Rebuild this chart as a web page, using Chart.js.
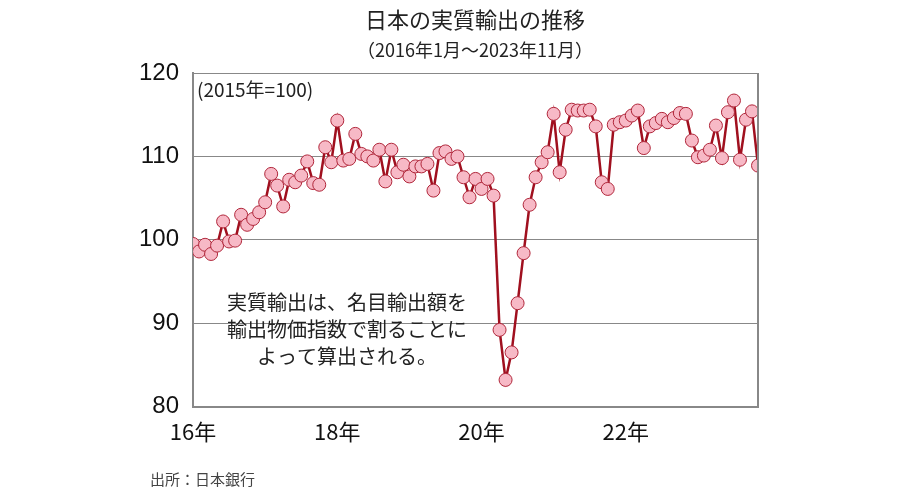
<!DOCTYPE html><html><head><meta charset="utf-8">
<script src="https://cdn.jsdelivr.net/npm/chart.js@4"></script>
<style>body{margin:0;background:#fff}#w{width:900px;height:500px}</style></head><body><div id="w"><canvas id="c"></canvas></div>
<script>
const startYear = 2016;
const values = [
99.5,98.6,99.4,98.3,99.3,102.2,99.8,99.9,103.0,101.8,102.5,103.3,
104.5,107.9,106.5,104.0,107.2,106.9,107.7,109.4,106.8,106.6,111.1,109.3,
114.3,109.5,109.7,112.7,110.3,110.0,109.5,110.8,107.0,110.8,108.1,109.0,
107.6,108.8,108.8,109.1,105.9,110.4,110.6,109.7,110.0,107.5,105.1,107.3,
106.1,107.3,105.3,89.2,83.2,86.5,92.4,98.4,104.2,107.5,109.3,110.5,
115.1,108.1,113.2,115.6,115.5,115.5,115.6,113.6,106.9,106.1,113.8,114.1,
114.3,114.9,115.5,111.0,113.6,114.0,114.5,114.1,114.6,115.2,115.1,111.9,
109.9,110.1,110.8,113.7,109.8,115.3,116.7,109.6,114.4,115.4,108.9];
const xTickLabels = {0:'16年',24:'18年',48:'20年',72:'22年'};
const yTicks = [80,90,100,110,120];
const title = '日本の実質輸出の推移';
const subtitle = '（2016年1月～2023年11月）';
const baseNote = '(2015年=100)';
const noteLines = ['実質輸出は、名目輸出額を','輸出物価指数で割ることに','よって算出される。'];
const source = '出所：日本銀行';
const F = '"Noto Sans CJK JP", "Noto Sans", sans-serif';

const deco = {id:'deco', afterDraw(ch){
  const c=ch.ctx, a=ch.chartArea; c.save();
  c.fillStyle='#222'; c.textAlign='center'; c.textBaseline='middle';
  c.font='22px '+F; c.fillText(title,475,20);
  c.font='18px '+F; c.fillText(subtitle,475,50);
  c.textAlign='left'; c.font='19px '+F; c.fillText(baseNote,197,90);
  c.textAlign='center'; c.font='20px '+F;
  noteLines.forEach((t,i)=>c.fillText(t,347,302+i*27));
  c.textAlign='left'; c.font='15px '+F; c.fillStyle='#444'; c.fillText(source,150,479);
  c.strokeStyle='#888'; c.lineWidth=2; c.beginPath(); c.moveTo(a.right,a.top); c.lineTo(a.right,a.bottom); c.stroke();
  c.restore();
}};

new Chart(document.getElementById('c'),{
  type:'line',
  data:{datasets:[{data:values.map((v,i)=>({x:i,y:v})),borderColor:'#a0101f',borderWidth:2.5,
    pointBackgroundColor:'#f7b9c6',pointBorderColor:'#b0263a',pointBorderWidth:1,pointRadius:6.5,tension:0}]},
  options:{responsive:true,maintainAspectRatio:false,animation:false,
    layout:{padding:{left:125,right:142,top:73,bottom:51}},
    plugins:{legend:{display:false},tooltip:{enabled:false}},
    scales:{
      x:{type:'linear',min:0,max:94,grid:{display:false,drawTicks:true},border:{color:'#888',width:2},
        afterBuildTicks:s=>{s.ticks=Object.keys(xTickLabels).map(k=>({value:+k}));},
        ticks:{color:'#111',font:{size:22,family:F},callback:v=>xTickLabels[v]||'',maxRotation:0,padding:4}},
      y:{min:80,max:120,afterBuildTicks:s=>{s.ticks=yTicks.map(v=>({value:v}));},
        grid:{color:'#888',lineWidth:1,drawTicks:false},border:{color:'#888',width:2},
        ticks:{color:'#111',font:{size:24,family:'Arial, "Liberation Sans", sans-serif'},padding:14}}
    }},
  plugins:[deco]
});
</script></body></html>
